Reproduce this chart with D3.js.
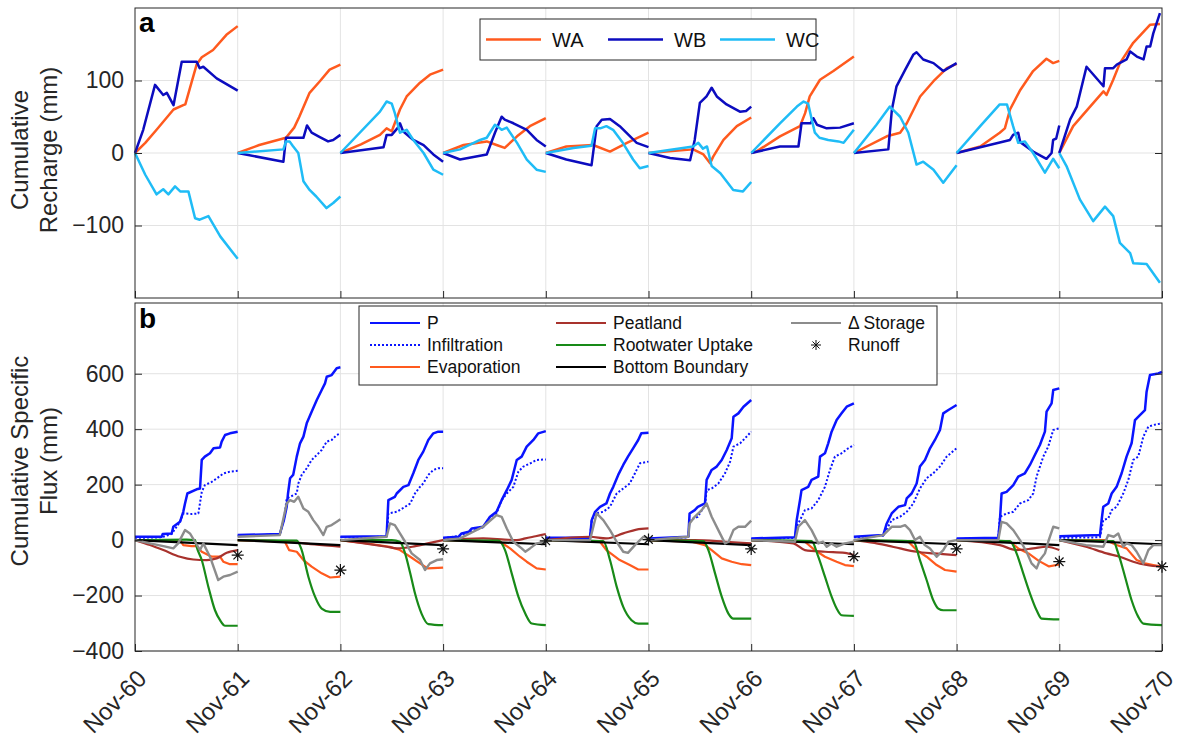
<!DOCTYPE html>
<html>
<head>
<meta charset="utf-8">
<script src="https://cdn.jsdelivr.net/npm/d3@7/dist/d3.min.js"></script>
<style>
  body { margin: 0; background: #fff; }
  svg { font-family: Arial, "Liberation Sans", Helvetica, sans-serif; }
</style>
</head>
<body>
<svg width="1184" height="740"></svg>
<script>
// x axis: one tick per year, Nov-60 ... Nov-70
var yearLabels = ["Nov-60","Nov-61","Nov-62","Nov-63","Nov-64","Nov-65","Nov-66","Nov-67","Nov-68","Nov-69","Nov-70"];

// each series: one array per year, points are [fraction of year, value in mm]
// panel a - cumulative recharge
var WA = [
  [[0,0],[0.1,14],[0.21,32],[0.375,60],[0.47,66],[0.49,67],[0.55,97],[0.6,122],[0.65,132],[0.76,142],[0.89,163],[1,175]],
  [[0,0],[0.21,11],[0.47,21],[0.55,35],[0.6,50],[0.7,83],[0.8,99],[0.895,115],[1,122]],
  [[0,0],[0.2,12],[0.385,25],[0.45,34],[0.5,30],[0.58,60],[0.645,78],[0.775,97],[0.872,108],[1,115]],
  [[0,0],[0.2,11],[0.425,16],[0.52,11],[0.6,7],[0.72,23],[0.845,37],[1,48]],
  [[0,0],[0.2,9],[0.46,11],[0.625,2],[0.79,14],[1,28]],
  [[0,0],[0.435,5],[0.535,-2],[0.6,-14],[0.63,-5],[0.73,18],[0.86,37],[1,49]],
  [[0,0],[0.05,2],[0.28,23],[0.475,37],[0.525,55],[0.57,78],[0.67,101],[0.8,113],[1,133]],
  [[0,0],[0.32,23],[0.45,28],[0.515,41],[0.645,78],[0.775,99],[0.905,117],[1,123]],
  [[0,0],[0.23,9],[0.42,28],[0.47,34],[0.52,60],[0.62,87],[0.745,113],[0.875,130],[0.94,124],[1,127]],
  [[0,0],[0.135,37],[0.3,64],[0.43,85],[0.46,80],[0.525,101],[0.59,124],[0.72,152],[0.885,177],[0.98,178]]
];
var WB = [
  [[0,0],[0.08,32],[0.195,94],[0.275,80],[0.31,83],[0.375,66],[0.455,126],[0.6,126],[0.63,117],[0.665,119],[0.795,103],[1,86]],
  [[0,0],[0.445,-12],[0.47,21],[0.64,21],[0.675,38],[0.72,28],[0.8,22],[0.88,16],[0.93,18],[1,25]],
  [[0,0],[0.42,8],[0.45,25],[0.5,25],[0.56,35],[0.58,41],[0.61,30],[0.71,18],[0.81,11],[0.905,-2],[1,-12]],
  [[0,0],[0.165,-9],[0.425,-2],[0.505,28],[0.57,50],[0.6,46],[0.685,41],[0.815,32],[0.91,18],[1,9]],
  [[0,0],[0.2,-9],[0.445,-17],[0.495,37],[0.545,46],[0.625,47],[0.72,37],[0.885,14],[1,8]],
  [[0,0],[0.21,-7],[0.405,-10],[0.45,18],[0.5,69],[0.565,78],[0.615,90],[0.665,78],[0.76,67],[0.89,57],[0.95,58],[1,64]],
  [[0,0],[0.28,9],[0.46,9],[0.49,41],[0.58,41],[0.605,48],[0.64,39],[0.735,34],[0.865,35],[1,41]],
  [[0,0],[0.335,5],[0.37,60],[0.415,92],[0.5,115],[0.58,136],[0.61,139],[0.675,129],[0.775,124],[0.87,113],[1,124]],
  [[0,0],[0.52,18],[0.55,25],[0.6,28],[0.62,15],[0.745,2],[0.875,-8],[0.925,0],[0.94,18],[0.97,20],[1,38]],
  [[0,0],[0.105,46],[0.17,64],[0.265,119],[0.43,92],[0.445,117],[0.525,117],[0.56,122],[0.655,129],[0.69,140],[0.755,133],[0.82,129],[0.85,147],[0.885,147],[0.915,165],[0.98,193]]
];
var WC = [
  [[0,0],[0.1,-30],[0.21,-57],[0.275,-50],[0.325,-57],[0.39,-46],[0.44,-53],[0.52,-53],[0.585,-90],[0.63,-92],[0.715,-87],[0.83,-115],[1,-146]],
  [[0,0],[0.445,5],[0.47,16],[0.505,16],[0.535,10],[0.59,0],[0.64,-39],[0.7,-51],[0.765,-60],[0.865,-76],[0.93,-69],[1,-60]],
  [[0,0],[0.385,57],[0.45,71],[0.5,68],[0.53,55],[0.58,28],[0.645,32],[0.71,18],[0.81,0],[0.905,-23],[1,-30]],
  [[0,0],[0.165,5],[0.36,18],[0.425,21],[0.505,39],[0.535,36],[0.57,32],[0.62,35],[0.72,14],[0.815,-9],[0.91,-23],[1,-26]],
  [[0,0],[0.27,7],[0.445,10],[0.48,34],[0.53,34],[0.59,37],[0.655,32],[0.75,14],[0.85,-9],[0.915,-21],[1,-18]],
  [[0,0],[0.435,9],[0.485,14],[0.53,6],[0.57,9],[0.615,-18],[0.7,-28],[0.825,-51],[0.92,-53],[1,-40]],
  [[0,0],[0.28,41],[0.445,64],[0.51,71],[0.555,68],[0.59,46],[0.62,28],[0.665,21],[0.75,18],[0.85,16],[0.9,14],[1,32]],
  [[0,0],[0.22,39],[0.35,64],[0.45,50],[0.53,28],[0.61,-16],[0.675,-12],[0.775,-23],[0.87,-41],[1,-17]],
  [[0,0],[0.23,37],[0.42,67],[0.49,67],[0.55,37],[0.6,14],[0.665,16],[0.745,0],[0.86,-27],[0.94,-8],[1,-21]],
  [[0,0],[0.07,-18],[0.2,-64],[0.33,-94],[0.445,-74],[0.525,-87],[0.59,-124],[0.69,-138],[0.72,-152],[0.85,-153],[0.98,-179]]
];

// panel b - cumulative specific flux
var P = [
  [[0,12],[0.26,12],[0.27,22],[0.357,24],[0.373,48],[0.438,66],[0.47,102],[0.487,132],[0.51,168],[0.6,183],[0.633,186],[0.65,289],[0.68,301],[0.73,313],[0.765,331],[0.828,334],[0.844,355],[0.877,379],[0.925,385],[1,391]],
  [[0,18],[0.41,22],[0.45,72],[0.477,120],[0.49,168],[0.51,223],[0.54,235],[0.575,301],[0.607,349],[0.64,373],[0.672,421],[0.72,463],[0.77,505],[0.818,541],[0.85,565],[0.867,589],[0.915,595],[0.964,620],[1,623]],
  [[0,12],[0.45,14],[0.467,144],[0.53,156],[0.548,168],[0.613,192],[0.662,198],[0.71,241],[0.759,289],[0.807,319],[0.856,361],[0.905,385],[0.953,391],[1,391]],
  [[0,8],[0.15,12],[0.165,18],[0.18,24],[0.25,30],[0.28,42],[0.39,48],[0.457,84],[0.52,102],[0.57,144],[0.62,180],[0.668,217],[0.717,289],[0.765,301],[0.814,337],[0.879,361],[0.927,385],[1,393]],
  [[0,8],[0.43,8],[0.447,72],[0.48,102],[0.528,120],[0.59,132],[0.625,168],[0.657,192],[0.705,235],[0.754,271],[0.8,301],[0.85,331],[0.9,361],[0.93,385],[1,387]],
  [[0,6],[0.388,12],[0.4,96],[0.45,108],[0.48,120],[0.55,132],[0.566,217],[0.615,253],[0.664,265],[0.713,289],[0.762,325],[0.81,367],[0.827,445],[0.875,457],[0.925,481],[1,505]],
  [[0,6],[0.426,10],[0.443,72],[0.475,144],[0.49,180],[0.555,192],[0.588,217],[0.653,229],[0.67,301],[0.718,313],[0.75,349],[0.783,391],[0.832,433],[0.88,457],[0.93,481],[1,493]],
  [[0,12],[0.286,18],[0.32,60],[0.368,96],[0.4,108],[0.433,120],[0.498,126],[0.514,150],[0.562,168],[0.611,204],[0.643,265],[0.692,289],[0.741,331],[0.789,361],[0.838,397],[0.87,457],[0.92,469],[1,487]],
  [[0,6],[0.406,8],[0.422,72],[0.438,168],[0.487,174],[0.552,198],[0.6,229],[0.665,241],[0.714,271],[0.762,307],[0.811,343],[0.86,391],[0.876,463],[0.925,493],[0.941,541],[1,547]],
  [[0,14],[0.396,18],[0.412,72],[0.428,120],[0.477,132],[0.51,168],[0.558,192],[0.607,241],[0.655,301],[0.704,349],[0.737,433],[0.785,451],[0.834,469],[0.85,535],[0.883,595],[0.964,601],[1,607]]
];
var INF = [
  [[0,8],[0.26,10],[0.357,22],[0.438,66],[0.47,96],[0.5,96],[0.552,94],[0.617,96],[0.65,174],[0.68,198],[0.747,210],[0.795,222],[0.86,240],[0.925,247],[1,250]],
  [[0,16],[0.41,20],[0.45,72],[0.477,150],[0.51,156],[0.575,168],[0.59,204],[0.623,235],[0.672,259],[0.72,289],[0.77,307],[0.818,325],[0.867,355],[0.915,361],[0.964,379],[1,385]],
  [[0,10],[0.45,12],[0.467,96],[0.548,102],[0.63,120],[0.68,132],[0.726,168],[0.775,192],[0.807,204],[0.856,235],[0.905,253],[0.953,259],[1,259]],
  [[0,6],[0.165,16],[0.25,28],[0.39,46],[0.457,84],[0.52,96],[0.57,144],[0.62,168],[0.684,192],[0.733,247],[0.781,265],[0.85,277],[0.911,289],[1,291]],
  [[0,6],[0.43,6],[0.447,72],[0.48,96],[0.56,102],[0.625,120],[0.69,168],[0.754,186],[0.818,204],[0.868,241],[0.917,277],[1,283]],
  [[0,4],[0.388,10],[0.4,72],[0.48,84],[0.55,126],[0.566,180],[0.615,186],[0.68,204],[0.745,241],[0.795,283],[0.827,337],[0.892,349],[0.94,367],[1,391]],
  [[0,4],[0.426,8],[0.443,48],[0.523,108],[0.588,114],[0.653,144],[0.718,192],[0.767,253],[0.815,301],[0.88,313],[0.945,331],[1,343]],
  [[0,10],[0.286,16],[0.368,72],[0.449,84],[0.514,102],[0.578,132],[0.643,186],[0.708,223],[0.773,241],[0.838,265],[0.903,301],[1,331]],
  [[0,4],[0.406,6],[0.422,84],[0.487,96],[0.552,102],[0.617,132],[0.698,144],[0.746,168],[0.779,229],[0.844,301],[0.892,337],[0.941,397],[1,403]],
  [[0,8],[0.396,10],[0.428,72],[0.477,78],[0.51,108],[0.558,120],[0.623,168],[0.672,217],[0.72,289],[0.769,301],[0.818,373],[0.867,409],[0.915,415],[1,421]]
];
var EVAP = [
  [[0,0],[0.438,0],[0.47,-18],[0.552,-22],[0.6,-22],[0.65,-42],[0.747,-60],[0.828,-60],[0.86,-78],[0.925,-87],[1,-87]],
  [[0,0],[0.46,-6],[0.5,-36],[0.575,-42],[0.64,-72],[0.72,-96],[0.818,-120],[0.9,-135],[1,-132]],
  [[0,0],[0.22,-10],[0.48,-24],[0.58,-36],[0.68,-60],[0.775,-84],[0.85,-102],[1,-99]],
  [[0,0],[0.555,-6],[0.652,-30],[0.749,-60],[0.814,-78],[0.911,-102],[1,-106]],
  [[0,0],[0.528,-6],[0.59,-36],[0.72,-72],[0.818,-90],[0.9,-106],[1,-106]],
  [[0,0],[0.42,-6],[0.55,-18],[0.615,-36],[0.713,-66],[0.81,-78],[0.908,-87],[1,-90]],
  [[0,0],[0.523,-6],[0.62,-36],[0.718,-60],[0.832,-78],[0.913,-90],[1,-94]],
  [[0,0],[0.53,-6],[0.611,-36],[0.708,-60],[0.806,-90],[0.887,-108],[1,-114]],
  [[0,0],[0.52,-6],[0.6,-30],[0.7,-48],[0.8,-75],[0.9,-95],[1,-88]],
  [[0,0],[0.45,0],[0.558,-18],[0.655,-30],[0.753,-72],[0.834,-84],[0.915,-90],[1,-96]]
];
var PEAT = [
  [[0,0],[0.146,-18],[0.276,-36],[0.438,-60],[0.568,-70],[0.698,-72],[0.795,-66],[0.893,-46],[1,-36]],
  [[0,0],[0.5,-6],[0.75,-16],[1,-24]],
  [[0,0],[0.2,-10],[0.45,-24],[0.55,-30],[0.7,-24],[0.85,-12],[1,0]],
  [[0,0],[0.39,6],[0.6,2],[0.717,0],[0.8,6],[0.9,14],[1,22]],
  [[0,0],[0.43,12],[0.59,6],[0.754,24],[0.883,38],[1,42]],
  [[0,0],[0.45,0],[0.75,-6],[1,-12]],
  [[0,0],[0.41,-12],[0.523,-36],[0.718,-42],[0.913,-46],[1,-54]],
  [[0,0],[0.2,-10],[0.33,-20],[0.449,-30],[0.611,-42],[0.773,-48],[1,-54]],
  [[0,0],[0.422,-18],[0.584,-36],[0.746,-30],[0.876,-24],[1,-36]],
  [[0,0],[0.26,-24],[0.46,-48],[0.59,-60],[0.72,-78],[0.85,-90],[1,-96]]
];
var ROOT = [
  [[0,0],[0.5,2],[0.584,0],[0.6,-24],[0.65,-72],[0.714,-168],[0.779,-253],[0.828,-289],[0.877,-309],[1,-309]],
  [[0,0],[0.575,-2],[0.623,-36],[0.688,-132],[0.753,-204],[0.818,-247],[0.9,-259],[1,-259]],
  [[0,0],[0.5,0],[0.58,-6],[0.63,-48],[0.68,-120],[0.726,-192],[0.79,-265],[0.856,-303],[1,-307]],
  [[0,0],[0.54,-2],[0.603,-36],[0.668,-120],[0.733,-204],[0.8,-265],[0.863,-301],[1,-307]],
  [[0,0],[0.56,-4],[0.625,-72],[0.69,-168],[0.754,-241],[0.835,-289],[0.9,-301],[1,-301]],
  [[0,0],[0.534,-4],[0.583,-36],[0.648,-120],[0.713,-204],[0.778,-265],[0.827,-283],[1,-283]],
  [[0,0],[0.588,-4],[0.653,-60],[0.718,-132],[0.783,-204],[0.832,-247],[0.88,-271],[1,-273]],
  [[0,0],[0.578,-4],[0.643,-72],[0.708,-144],[0.773,-217],[0.822,-247],[0.87,-253],[1,-253]],
  [[0,0],[0.52,-4],[0.584,-48],[0.649,-120],[0.714,-192],[0.779,-253],[0.827,-283],[1,-286]],
  [[0,0],[0.525,-4],[0.574,-48],[0.64,-132],[0.704,-217],[0.769,-277],[0.818,-301],[1,-307]]
];
// bottom boundary: value reached at the end of each year (starts at 0)
var BOTTOM_END = [-18,-18,-18,-15,-15,-18,-15,-15,-18,-15];
var STORAGE = [
  [[0,0],[0.146,-12],[0.276,-22],[0.373,-30],[0.42,-12],[0.487,36],[0.535,24],[0.584,-6],[0.633,-36],[0.665,-12],[0.73,-60],[0.81,-144],[0.86,-132],[0.925,-126],[1,-114]],
  [[0,12],[0.41,18],[0.477,132],[0.51,144],[0.55,138],[0.59,156],[0.64,114],[0.688,102],[0.736,72],[0.785,48],[0.834,18],[0.867,48],[0.915,54],[0.964,66],[1,75]],
  [[0,0],[0.45,12],[0.483,60],[0.53,54],[0.58,24],[0.63,-6],[0.694,-48],[0.775,-72],[0.824,-108],[0.872,-84],[0.938,-72],[1,-69]],
  [[0,0],[0.165,6],[0.39,48],[0.52,90],[0.57,84],[0.62,42],[0.684,-6],[0.765,-30],[0.8,-42],[0.846,-30],[0.911,-12],[1,-6]],
  [[0,0],[0.43,0],[0.495,96],[0.56,72],[0.625,36],[0.69,-6],[0.754,-42],[0.8,-46],[0.868,-18],[0.95,12],[1,6]],
  [[0,0],[0.388,12],[0.4,60],[0.45,84],[0.518,108],[0.566,132],[0.615,84],[0.68,36],[0.745,-12],[0.78,-6],[0.827,36],[0.875,48],[0.94,48],[1,70]],
  [[0,0],[0.426,-6],[0.459,48],[0.523,72],[0.588,36],[0.653,-12],[0.7,-6],[0.735,-24],[0.78,-12],[0.832,-24],[0.913,-12],[1,-6]],
  [[0,0],[0.286,18],[0.368,48],[0.45,48],[0.498,54],[0.546,36],[0.595,0],[0.643,12],[0.69,-18],[0.741,-30],[0.806,-60],[0.87,-36],[0.92,-6],[1,0]],
  [[0,0],[0.406,0],[0.438,66],[0.487,60],[0.552,36],[0.617,0],[0.681,-42],[0.73,-84],[0.779,-102],[0.811,-72],[0.86,-48],[0.892,-6],[0.941,48],[1,42]],
  [[0,0],[0.26,-18],[0.428,-24],[0.477,18],[0.53,12],[0.574,24],[0.623,-24],[0.655,-12],[0.704,-18],[0.753,-42],[0.818,-84],[0.867,-36],[0.915,-18],[1,-18]]
];
// runoff total at the end of each year
var RUNOFF = [-54,-108,-32,-3,2,-32,-60,-32,-78,-96];

var aTicks = [-100, 0, 100];
var bTicks = [-400, -200, 0, 200, 400, 600];

var col = {
  WA: "#ff5a1e", WB: "#0c0cbf", WC: "#1fbcf6",
  P: "#0a14ff", INF: "#0a14ff", EVAP: "#ff5a1e", PEAT: "#a8322d",
  ROOT: "#188a18", BOTTOM: "#000000", STORAGE: "#8c8c8c"
};
var axisCol = "#262626", gridCol = "#e3e3e3";

var svg = d3.select("svg");
var left = 135, right = 1162;

var x = d3.scaleLinear().domain([0, 10]).range([left, right]);
var ya = d3.scaleLinear().domain([-200, 200]).range([298, 8]);
var yb = d3.scaleLinear().domain([-400, 855]).range([651, 303]);

function panel(y, ticks, top, bottom) {
  var g = svg.append("g");
  // grid
  g.selectAll(".gx").data(d3.range(1, 10)).enter().append("line")
    .attr("x1", function(d) { return x(d); }).attr("x2", function(d) { return x(d); })
    .attr("y1", top).attr("y2", bottom)
    .attr("stroke", gridCol).attr("stroke-width", 1);
  g.selectAll(".gy").data(ticks).enter().append("line")
    .attr("x1", left).attr("x2", right)
    .attr("y1", function(d) { return y(d); }).attr("y2", function(d) { return y(d); })
    .attr("stroke", gridCol).attr("stroke-width", 1);
  return g;
}

function frame(y, ticks, top, bottom, showX) {
  var g = svg.append("g");
  var la = g.append("g").attr("transform", "translate(" + left + ",0)")
    .call(d3.axisLeft(y).tickValues(ticks).tickSize(-7).tickSizeOuter(0).tickPadding(11).tickFormat(d3.format("d")));
  var ra = g.append("g").attr("transform", "translate(" + right + ",0)")
    .call(d3.axisRight(y).tickValues(ticks).tickSize(-7).tickSizeOuter(0).tickFormat(""));
  var ba = g.append("g").attr("transform", "translate(0," + bottom + ")")
    .call(d3.axisBottom(x).tickValues(d3.range(0, 11)).tickSize(-7).tickSizeOuter(0).tickFormat(""));
  [la, ra, ba].forEach(function(a) {
    a.select(".domain").remove();
    a.selectAll("line").attr("stroke", axisCol);
    a.selectAll("text").attr("fill", axisCol).style("font-size", "23px").attr("font-family", null);
  });
  g.append("rect").attr("x", left).attr("y", top).attr("width", right - left).attr("height", bottom - top)
    .attr("fill", "none").attr("stroke", axisCol).attr("stroke-width", 1);
  if (showX) {
    g.selectAll(".xl").data(yearLabels).enter().append("text")
      .attr("transform", function(d, i) { return "translate(" + (x(i) + 13) + "," + (bottom + 29) + ") rotate(-45)"; })
      .attr("text-anchor", "end")
      .attr("fill", axisCol)
      .style("font-size", "24px")
      .text(function(d) { return d; });
  }
}

function drawSeries(g, y, data, color, width, dash, curve) {
  var line = d3.line()
    .x(function(p) { return x(p[0]); })
    .y(function(p) { return y(p[1]); })
    .curve(curve || d3.curveLinear);
  data.forEach(function(yr, i) {
    var pts = yr.map(function(p) { return [i + p[0], p[1]]; });
    var path = g.append("path").attr("d", line(pts))
      .attr("fill", "none").attr("stroke", color).attr("stroke-width", width)
      .attr("stroke-linejoin", "round");
    if (dash) path.attr("stroke-dasharray", dash);
  });
}

function star(g, cx, cy, r, w) {
  var d = 0.7071 * r;
  g.append("path")
    .attr("d", "M" + (cx - r) + "," + cy + "L" + (cx + r) + "," + cy +
               "M" + cx + "," + (cy - r) + "L" + cx + "," + (cy + r) +
               "M" + (cx - d) + "," + (cy - d) + "L" + (cx + d) + "," + (cy + d) +
               "M" + (cx - d) + "," + (cy + d) + "L" + (cx + d) + "," + (cy - d))
    .attr("stroke", "#111").attr("stroke-width", w).attr("fill", "none");
}

// ---- panel a ----
var ga = panel(ya, aTicks, 8, 298);
drawSeries(ga, ya, WA, col.WA, 2.5);
drawSeries(ga, ya, WB, col.WB, 2.5);
drawSeries(ga, ya, WC, col.WC, 2.5);
frame(ya, aTicks, 8, 298, false);

// ---- panel b ----
var gb = panel(yb, bTicks, 303, 651);
drawSeries(gb, yb, P, col.P, 2.5);
drawSeries(gb, yb, INF, col.INF, 2, "2,2");
drawSeries(gb, yb, EVAP, col.EVAP, 2.2);
drawSeries(gb, yb, PEAT, col.PEAT, 2.2, null, d3.curveMonotoneX);
drawSeries(gb, yb, ROOT, col.ROOT, 2.2, null, d3.curveMonotoneX);
drawSeries(gb, yb, BOTTOM_END.map(function(v) { return [[0, 0], [1, v]]; }), col.BOTTOM, 2.2);
drawSeries(gb, yb, STORAGE, col.STORAGE, 2.4);
RUNOFF.forEach(function(v, i) { star(gb, x(i + 1), yb(v), 6, 1.2); });
frame(yb, bTicks, 303, 651, true);

// panel letters
svg.append("text").attr("x", 139).attr("y", 32).style("font-size", "28px").style("font-weight", "bold").text("a");
svg.append("text").attr("x", 139).attr("y", 328).style("font-size", "28px").style("font-weight", "bold").text("b");

// y labels
function ylab(lines, cy) {
  var t = svg.append("text").attr("transform", "translate(0," + cy + ") rotate(-90)")
    .attr("text-anchor", "middle").attr("fill", axisCol).style("font-size", "24px");
  t.append("tspan").attr("x", 0).attr("y", 28).text(lines[0]);
  t.append("tspan").attr("x", 0).attr("y", 57).text(lines[1]);
}
ylab(["Cumulative", "Recharge (mm)"], 150);
ylab(["Cumulative Specific", "Flux (mm)"], 461);

// ---- legend a ----
var legA = svg.append("g");
legA.append("rect").attr("x", 480).attr("y", 19).attr("width", 336).attr("height", 41)
  .attr("fill", "#fff").attr("stroke", axisCol).attr("stroke-width", 1);
[["WA", col.WA, 486], ["WB", col.WB, 608], ["WC", col.WC, 720]].forEach(function(e) {
  legA.append("line").attr("x1", e[2]).attr("x2", e[2] + 55).attr("y1", 39.5).attr("y2", 39.5)
    .attr("stroke", e[1]).attr("stroke-width", 2.5);
  legA.append("text").attr("x", e[2] + 66).attr("y", 47).style("font-size", "20px").attr("fill", "#111").text(e[0]);
});

// ---- legend b ----
var legB = svg.append("g");
legB.append("rect").attr("x", 359).attr("y", 306).attr("width", 578).attr("height", 79)
  .attr("fill", "#fff").attr("stroke", axisCol).attr("stroke-width", 1);
var legItems = [
  {name: "P", c: col.P, cx: 370, r: 0},
  {name: "Infiltration", c: col.INF, cx: 370, r: 1, dash: "2,2"},
  {name: "Evaporation", c: col.EVAP, cx: 370, r: 2},
  {name: "Peatland", c: col.PEAT, cx: 556, r: 0},
  {name: "Rootwater Uptake", c: col.ROOT, cx: 556, r: 1},
  {name: "Bottom Boundary", c: col.BOTTOM, cx: 556, r: 2},
  {name: "\u0394 Storage", c: col.STORAGE, cx: 791, r: 0},
  {name: "Runoff", c: null, cx: 791, r: 1}
];
var rowY = [323, 345, 367];
legItems.forEach(function(e) {
  var yy = rowY[e.r];
  if (e.c) {
    var ln = legB.append("line").attr("x1", e.cx).attr("x2", e.cx + 50).attr("y1", yy).attr("y2", yy)
      .attr("stroke", e.c).attr("stroke-width", 2);
    if (e.dash) ln.attr("stroke-dasharray", e.dash);
  } else {
    star(legB, e.cx + 25, yy, 5, 1);
  }
  legB.append("text").attr("x", e.cx + 57).attr("y", yy + 6).style("font-size", "17.5px").attr("fill", "#111").text(e.name);
});
</script>
</body>
</html>
